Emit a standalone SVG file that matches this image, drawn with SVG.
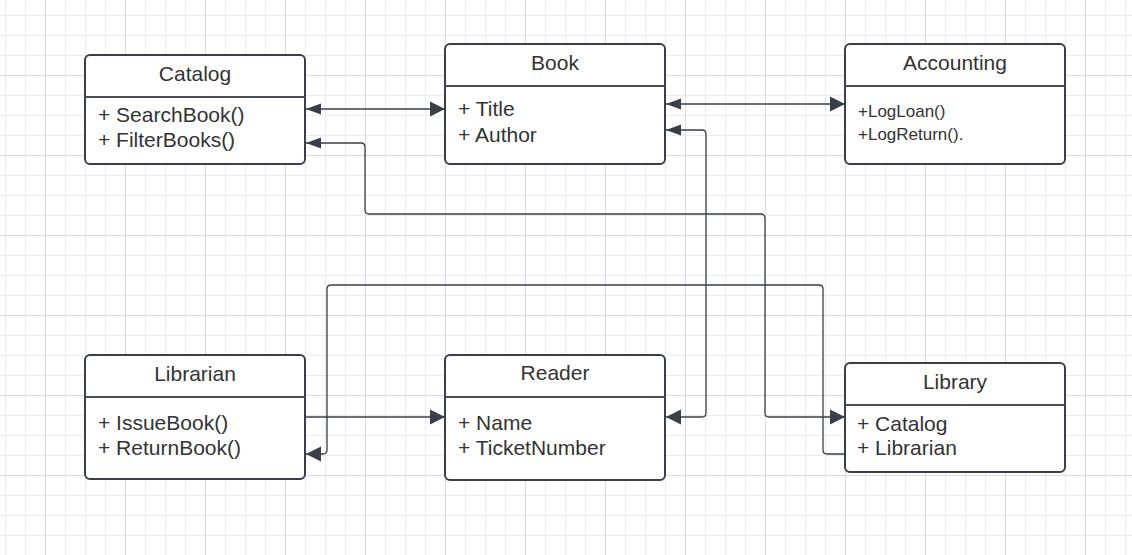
<svg xmlns="http://www.w3.org/2000/svg" width="1132" height="555" viewBox="0 0 1132 555">
<style>
.box{fill:#ffffff;stroke:#3a3f47;stroke-width:2}
.div{stroke:#4a4f57;stroke-width:2}
.t{font-family:"Liberation Sans",Arial,sans-serif;font-size:21px;fill:#333333}
.c{text-anchor:middle}
.s{font-size:17px}
.con{fill:none;stroke:#3a3f47;stroke-width:1.3}
</style>
<defs>
<pattern id="grid" patternUnits="userSpaceOnUse" x="45" y="75" width="80" height="80">
<rect x="20" y="0" width="1" height="80" fill="#ececec"/>
<rect x="40" y="0" width="1" height="80" fill="#ececec"/>
<rect x="60" y="0" width="1" height="80" fill="#ececec"/>
<rect x="0" y="20" width="80" height="1" fill="#ececec"/>
<rect x="0" y="40" width="80" height="1" fill="#ececec"/>
<rect x="0" y="60" width="80" height="1" fill="#ececec"/>
<rect x="0" y="0" width="1" height="80" fill="#dcdcdc"/>
<rect x="0" y="0" width="80" height="1" fill="#dcdcdc"/>
</pattern>
<marker id="ah" markerUnits="userSpaceOnUse" markerWidth="16" markerHeight="16" refX="15" refY="8" orient="auto-start-reverse" viewBox="0 0 16 16">
<path d="M0,0.5 L15,8 L0,15.5 z" fill="#3a3f47"/>
</marker>
<marker id="aht" markerUnits="userSpaceOnUse" markerWidth="16" markerHeight="12" refX="15" refY="6" orient="auto-start-reverse" viewBox="0 0 16 12">
<path d="M0,0.5 L15,6 L0,11.5 z" fill="#3a3f47"/>
</marker>
</defs>
<rect x="0" y="0" width="1132" height="555" fill="#ffffff"/>
<rect x="0" y="0" width="1132" height="555" fill="url(#grid)"/>

<g id="connectors">
<path class="con" d="M306,109 H445" marker-start="url(#aht)" marker-end="url(#ah)"/>
<path class="con" d="M666,104 H845" marker-start="url(#aht)" marker-end="url(#ah)"/>
<path class="con" d="M306,143 H361 Q365,143 365,147 V210 Q365,214 369,214 H761 Q765,214 765,218 V413 Q765,417 769,417 H845" marker-start="url(#aht)" marker-end="url(#ah)"/>
<path class="con" d="M666,130 H702 Q706,130 706,134 V413 Q706,417 702,417 H666" marker-start="url(#aht)" marker-end="url(#ah)"/>
<path class="con" d="M305,417 H445" marker-end="url(#ah)"/>
<path class="con" d="M845,454 H827 Q823,454 823,450 V289 Q823,285 819,285 H331 Q327,285 327,289 V450 Q327,454 323,454 H306" marker-end="url(#ah)"/>
</g>

<g id="catalog">
<rect class="box" x="85" y="55" width="220" height="109" rx="5"/>
<line class="div" x1="85" y1="97" x2="305" y2="97"/>
<text class="t c" x="195" y="81">Catalog</text>
<text class="t" x="98" y="122">+ SearchBook()</text>
<text class="t" x="98" y="147">+ FilterBooks()</text>
</g>

<g id="book">
<rect class="box" x="445" y="44" width="220" height="120" rx="5"/>
<line class="div" x1="445" y1="86" x2="665" y2="86"/>
<text class="t c" x="555" y="70">Book</text>
<text class="t" x="458" y="116">+ Title</text>
<text class="t" x="458" y="141.5">+ Author</text>
</g>

<g id="accounting">
<rect class="box" x="845" y="44" width="220" height="120" rx="5"/>
<line class="div" x1="845" y1="86" x2="1065" y2="86"/>
<text class="t c" x="955" y="70">Accounting</text>
<text class="t s" x="858" y="116.5">+LogLoan()</text>
<text class="t s" x="858" y="140">+LogReturn().</text>
</g>

<g id="librarian">
<rect class="box" x="85" y="355" width="220" height="124" rx="5"/>
<line class="div" x1="85" y1="397" x2="305" y2="397"/>
<text class="t c" x="195" y="381">Librarian</text>
<text class="t" x="98" y="430">+ IssueBook()</text>
<text class="t" x="98" y="455">+ ReturnBook()</text>
</g>

<g id="reader">
<rect class="box" x="445" y="355" width="220" height="125" rx="5"/>
<line class="div" x1="445" y1="397" x2="665" y2="397"/>
<text class="t c" x="555" y="380">Reader</text>
<text class="t" x="458" y="430">+ Name</text>
<text class="t" x="458" y="455">+ TicketNumber</text>
</g>

<g id="library">
<rect class="box" x="845" y="363" width="220" height="109" rx="5"/>
<line class="div" x1="845" y1="405" x2="1065" y2="405"/>
<text class="t c" x="955" y="388.5">Library</text>
<text class="t" x="857" y="431">+ Catalog</text>
<text class="t" x="857" y="455">+ Librarian</text>
</g>
</svg>
